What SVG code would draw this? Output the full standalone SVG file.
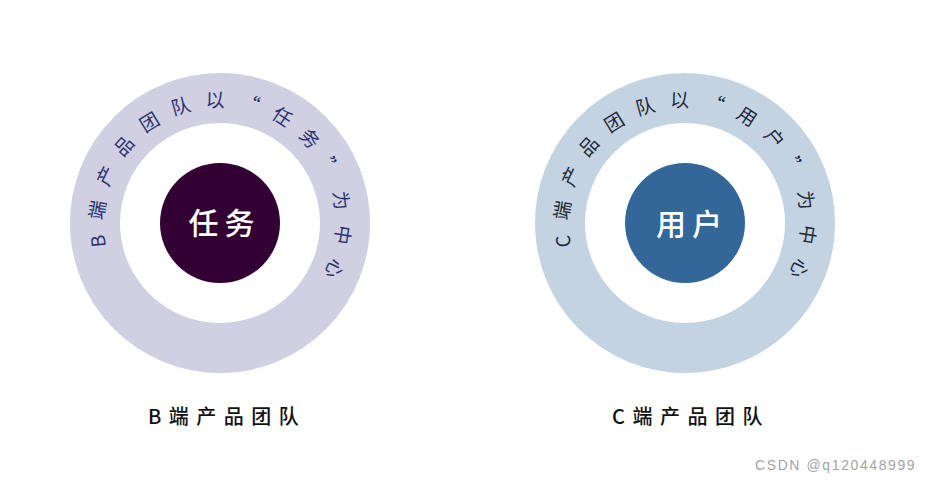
<svg xmlns="http://www.w3.org/2000/svg" width="930" height="481" viewBox="0 0 930 481">
<style>
.ring-text{font-family:"Noto Sans CJK SC","Noto Sans",sans-serif;font-size:19px;letter-spacing:14px}
.center-label{font-family:"Noto Sans CJK SC","Noto Sans",sans-serif;font-size:30px;fill:#ffffff;letter-spacing:6px;text-anchor:middle;font-weight:500}
.caption{font-family:"Noto Sans CJK SC","Noto Sans",sans-serif;font-size:20px;fill:#111111;letter-spacing:7.5px;font-weight:500}
.watermark{font-family:"Liberation Sans",Arial,sans-serif;font-size:14px;fill:#a3a3a3;letter-spacing:1.6px}
</style>
<defs>
<path id="arcB" d="M 220 339 A 116 116 0 1 1 220 107 A 116 116 0 1 1 220 339"/>
<path id="arcC" d="M 685 339 A 116 116 0 1 1 685 107 A 116 116 0 1 1 685 339"/>
</defs>
<rect x="0" y="0" width="930" height="481" fill="#ffffff"/>
<g id="connectors"></g>
<g id="node-b">
<circle cx="220" cy="223" r="125" fill="none" stroke="#d0d0e2" stroke-width="50"/>
<text class="ring-text" fill="#2d3370"><textPath href="#arcB" startOffset="158">B端产品团队以“任务”为中心</textPath></text>
<circle cx="220" cy="223" r="60" fill="#330033"/>
<text class="center-label" x="224.5" y="234">任务</text>
<text class="caption" x="148" y="424">B端产品团队</text>
</g>
<g id="node-c">
<circle cx="685" cy="223" r="125" fill="none" stroke="#c3d3e2" stroke-width="50"/>
<text class="ring-text" fill="#23293a"><textPath href="#arcC" startOffset="158">C端产品团队以“用户”为中心</textPath></text>
<circle cx="685" cy="223" r="60" fill="#336699"/>
<text class="center-label" x="692" y="235">用户</text>
<text class="caption" x="612" y="424">C端产品团队</text>
</g>
<text class="watermark" x="755" y="469.5">CSDN @q120448999</text>
</svg>
